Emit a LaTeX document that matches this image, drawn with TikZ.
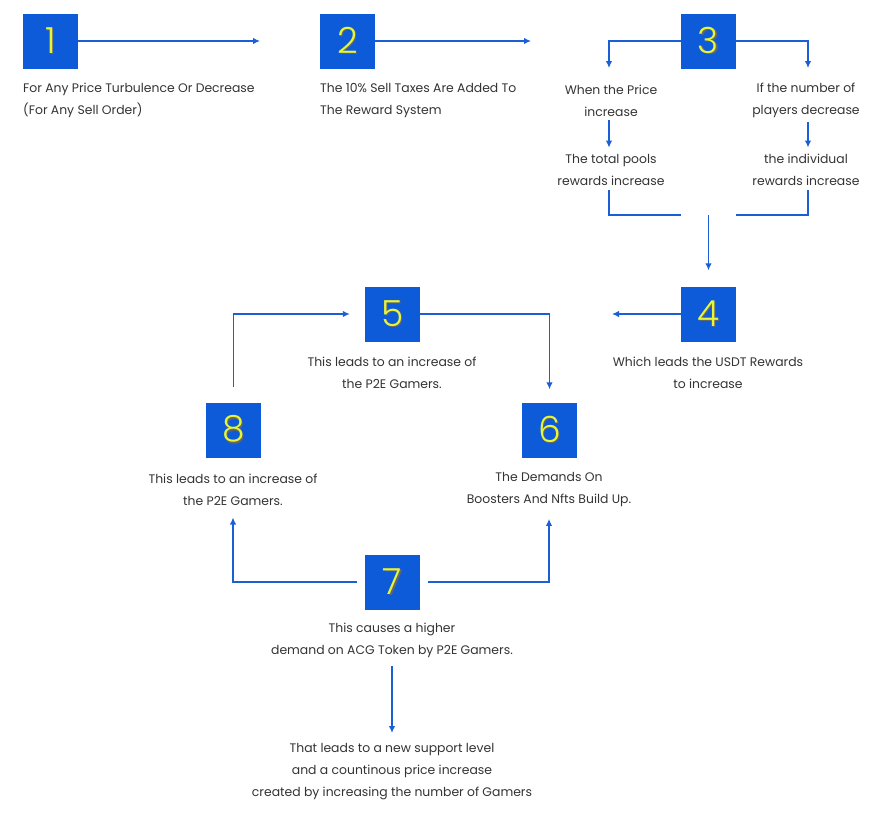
\documentclass[tikz,border=0pt]{standalone}
\usepackage{fontspec}
\setmainfont{Poppins}
\newfontfamily\numfont{Poppins}[UprightFont=* Light]
\usetikzlibrary{arrows.meta}
\definecolor{boxblue}{HTML}{0D5BD9}
\definecolor{lineblue}{HTML}{1A5FD8}
\definecolor{numyellow}{HTML}{E6F53A}
\definecolor{txt}{HTML}{333333}
\newcommand\numdigit[1]{\makebox[0pt][l]{\hspace{1.4pt}\raisebox{-1.6pt}{\color{black!60}#1}}{\color{numyellow}#1}}
\begin{document}
\begin{tikzpicture}[x=1pt,y=-1pt,
 numbox/.style={fill=boxblue, minimum size=55pt, inner sep=0pt, font=\numfont\fontsize{36}{36}\selectfont},
 lbl/.style={text=txt, align=center, font=\fontsize{12.4}{22}\selectfont, inner sep=0pt},
 conn/.style={draw=lineblue, line width=1.3pt, -{Latex[length=7pt,width=6.5pt]}},
 plain/.style={draw=lineblue, line width=1.3pt}]
\useasboundingbox (0,0) rectangle (892,823);
% boxes
\node[numbox] (b1) at (50.5,41) {\numdigit{1}};
\node[numbox] (b2) at (347.5,41) {\numdigit{2}};
\node[numbox] (b3) at (708.5,41) {\numdigit{3}};
\node[numbox] (b4) at (708.5,314) {\numdigit{4}};
\node[numbox] (b5) at (392.5,314) {\numdigit{5}};
\node[numbox] (b6) at (549.5,430) {\numdigit{6}};
\node[numbox] (b7) at (392.5,582) {\numdigit{7}};
\node[numbox] (b8) at (233.5,430) {\numdigit{8}};
% labels
\node[lbl, align=left, anchor=west] (t1) at (23,100.5) {For Any Price Turbulence Or Decrease\\(For Any Sell Order)};
\node[lbl, align=left, anchor=west] (t2) at (320,100.5) {The 10\% Sell Taxes Are Added To\\The Reward System};
\node[lbl] (t3a) at (611,100.5) {When the Price\\increase};
\node[lbl] (t3b) at (806,100.5) {If the number of\\players decrease};
\node[lbl] (t3c) at (611,169.5) {The total pools\\rewards increase};
\node[lbl] (t3d) at (806,169.5) {the individual\\rewards increase};
\node[lbl] (t4) at (708,372.5) {Which leads the USDT Rewards\\to increase};
\node[lbl] (t5) at (392,372.5) {This leads to an increase of\\the P2E Gamers.};
\node[lbl] (t8) at (233,489.5) {This leads to an increase of\\the P2E Gamers.};
\node[lbl] (t6) at (549,489.5) {The Demands On\\Boosters And Nfts Build Up.};
\node[lbl] (t7) at (392,640.5) {This causes a higher\\demand on ACG Token by P2E Gamers.};
\node[lbl] (t9) at (392,771.5) {That leads to a new support level\\and a countinous price increase\\created by increasing the number of Gamers};
% coordinates
\coordinate (e1) at (260,41);
\coordinate (e2) at (531,41);
\coordinate (j3a) at (609,68);
\coordinate (j3b) at (808,68);
\coordinate (j3c) at (681,215);
\coordinate (j3d) at (736,215);
\coordinate (j3m) at (708.5,215);
\coordinate (e4) at (612,314);
% connectors
\draw[conn] (b1.east) -- (e1);
\draw[conn] (b2.east) -- (e2);
\draw[conn] (b3.west) -| (j3a);
\draw[conn] (b3.east) -| (j3b);
\draw[conn, shorten <=4pt, shorten >=6pt] (t3a.south -| j3a) -- (t3c.north -| j3a);
\draw[conn, shorten <=4pt, shorten >=6pt] (t3b.south -| j3b) -- (t3d.north -| j3b);
\draw[plain, shorten <=5pt] (t3c.south -| j3a) |- (j3c);
\draw[plain, shorten <=5pt] (t3d.south -| j3b) |- (j3d);
\draw[conn, shorten >=16pt] (j3m) -- (b4.north);
\draw[conn] (b4.west) -- (e4);
\draw[conn, shorten <=15pt, shorten >=15pt] (b8.north) |- (b5.west);
\draw[conn, shorten >=13pt] (b5.east) -| (b6.north);
\draw[conn, shorten <=8pt, shorten >=12pt] (b7.west) -| (t8.south);
\draw[conn, shorten <=8pt, shorten >=12pt] (b7.east) -| (t6.south);
\draw[conn, shorten <=8pt, shorten >=10pt] (t7.south) -- (t9.north);
\end{tikzpicture}
\end{document}
